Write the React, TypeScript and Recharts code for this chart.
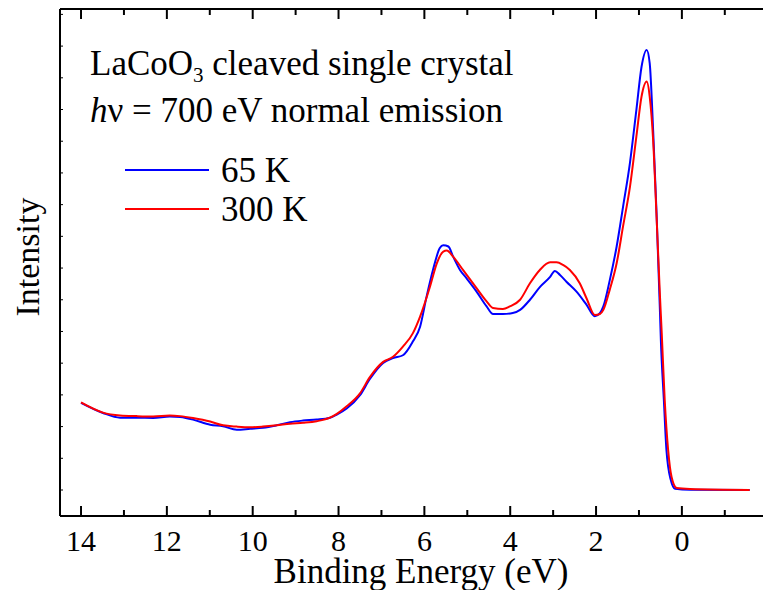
import { LineChart, Line, XAxis, YAxis, Customized } from "recharts";

// Binding energy (eV) and intensity (arb. units) for each temperature
const energy65 = [
  14.0, 13.49, 13.09, 12.7, 12.32, 11.93, 11.69, 11.39, 10.99, 10.69,
  10.37, 10.06, 9.76, 9.44, 9.13, 8.83, 8.51, 8.2, 8.04, 7.81,
  7.5, 7.27, 6.96, 6.73, 6.5, 6.27, 6.1, 5.95, 5.8, 5.64,
  5.56, 5.44, 5.33, 5.17, 5.02, 4.78, 4.55, 4.4, 4.17, 3.94,
  3.77, 3.54, 3.31, 3.07, 2.96, 2.84, 2.69, 2.45, 2.22, 2.03,
  1.91, 1.83, 1.68, 1.52, 1.37, 1.21, 1.06, 0.94, 0.82, 0.75,
  0.67, 0.59, 0.51, 0.49, 0.42, 0.36, 0.26, 0.16, -0.19, -1.58,
];
const intensity65 = [
  2.75, 2.43, 2.28, 2.28, 2.27, 2.32, 2.3, 2.22, 2.06, 2.01,
  1.9, 1.93, 1.96, 2.04, 2.14, 2.19, 2.22, 2.28, 2.38, 2.57,
  2.99, 3.5, 4.01, 4.16, 4.25, 4.68, 5.15, 6.09, 6.94, 7.63,
  7.72, 7.68, 7.36, 6.94, 6.68, 6.25, 5.79, 5.55, 5.55, 5.58,
  5.68, 6.0, 6.4, 6.72, 6.91, 6.78, 6.57, 6.25, 5.84, 5.48,
  5.58, 5.79, 6.62, 7.68, 8.94, 10.32, 11.99, 13.35, 13.88, 13.46,
  11.35, 8.73, 5.58, 4.73, 2.84, 1.26, 0.32, 0.04, 0.01, 0.0,
];

const energy300 = [
  14.0, 13.49, 13.09, 12.7, 12.32, 11.93, 11.69, 11.39, 10.99, 10.69,
  10.37, 10.06, 9.76, 9.44, 9.13, 8.83, 8.51, 8.2, 8.04, 7.81,
  7.5, 7.27, 6.96, 6.73, 6.5, 6.27, 6.1, 5.87, 5.71, 5.56,
  5.48, 5.33, 5.1, 4.78, 4.55, 4.4, 4.17, 4.01, 3.77, 3.54,
  3.31, 3.07, 2.92, 2.77, 2.61, 2.38, 2.22, 2.03, 1.91, 1.83,
  1.68, 1.52, 1.37, 1.21, 1.06, 0.94, 0.82, 0.75, 0.67, 0.59,
  0.51, 0.47, 0.4, 0.32, 0.24, 0.12, -0.19, -1.58,
];
const intensity300 = [
  2.76, 2.44, 2.35, 2.33, 2.32, 2.35, 2.33, 2.27, 2.16, 2.04,
  2.0, 1.98, 2.0, 2.04, 2.09, 2.12, 2.17, 2.28, 2.4, 2.64,
  3.05, 3.56, 4.04, 4.2, 4.52, 4.94, 5.47, 6.41, 7.15, 7.52,
  7.55, 7.36, 6.94, 6.36, 5.95, 5.74, 5.71, 5.79, 6.0, 6.52,
  6.94, 7.18, 7.18, 7.1, 6.94, 6.52, 6.04, 5.52, 5.55, 5.68,
  6.32, 7.15, 8.32, 9.56, 11.15, 12.41, 12.88, 12.41, 11.04, 8.62,
  6.09, 4.96, 2.84, 1.26, 0.41, 0.06, 0.03, 0.0,
];

const energyTicks = [14, 13, 12, 11, 10, 9, 8, 7, 6, 5, 4, 3, 2, 1, 0, -1];
const energyLabels = [14, 12, 10, 8, 6, 4, 2, 0];
const intensityTicks = [0, 1, 2, 3, 4, 5, 6, 7, 8, 9, 10, 11, 12, 13, 14, 15];

const series65 = energy65.map((e, i) => ({ e, v: intensity65[i] }));
const series300 = energy300.map((e, i) => ({ e, v: intensity300[i] }));

const FONT = "'Liberation Serif', 'Times New Roman', serif";
const BLUE = "#0000ff";
const RED = "#ff0000";

// inward ticks; even energies get the long tick and a label
function BottomTick(props: any) {
  const { x, y, payload } = props;
  const major = payload.value % 2 === 0;
  return (
    <g>
      <line x1={x} x2={x} y1={y} y2={y - (major ? 10 : 6)} stroke="#000" strokeWidth={2} />
      {energyLabels.includes(payload.value) && (
        <text x={x} y={y + 35} textAnchor="middle" fontFamily={FONT} fontSize={30} fill="#000">
          {payload.value}
        </text>
      )}
    </g>
  );
}

function TopTick(props: any) {
  const { x, y, payload } = props;
  const major = payload.value % 2 === 0;
  return <line x1={x} x2={x} y1={y} y2={y + (major ? 10 : 6)} stroke="#000" strokeWidth={2} />;
}

function LeftTick(props: any) {
  const { x, y } = props;
  return <line x1={x} x2={x + 3} y1={y} y2={y} stroke="#000" strokeWidth={1} />;
}

function Annotations() {
  return (
    <g fontFamily={FONT} fill="#000">
      <text x={90} y={75} fontSize={35}>
        LaCoO
        <tspan fontSize={21} dy={7}>3</tspan>
        <tspan dy={-7}> cleaved single crystal</tspan>
      </text>
      <text x={90} y={122} fontSize={35}>
        <tspan fontStyle="italic">h</tspan>ν = 700 eV normal emission
      </text>
      <line x1={125} x2={209} y1={170} y2={170} stroke={BLUE} strokeWidth={2} />
      <text x={221} y={182} fontSize={35}>65 K</text>
      <line x1={125} x2={209} y1={209} y2={209} stroke={RED} strokeWidth={2} />
      <text x={221} y={221} fontSize={35}>300 K</text>
      <text x={421} y={583} fontSize={35} textAnchor="middle">
        Binding Energy (eV)
      </text>
      <text x={39} y={257} fontSize={34} textAnchor="middle" transform="rotate(-90 39 257)">
        Intensity
      </text>
    </g>
  );
}

export default function App() {
  return (
    <div style={{ position: "absolute", left: 0, top: 0, width: 763, height: 590, background: "#fff" }}>
      <LineChart width={763} height={590} margin={{ top: 8, right: 0, bottom: 0, left: 59 }}>
        <XAxis
          dataKey="e"
          type="number"
          domain={[-1.89, 14.49]}
          reversed
          allowDataOverflow
          ticks={energyTicks}
          interval={0}
          height={74}
          tickSize={0}
          tickMargin={0}
          tick={<BottomTick />}
          axisLine={{ stroke: "#000", strokeWidth: 2 }}
        />
        <XAxis
          xAxisId="top"
          orientation="top"
          dataKey="e"
          type="number"
          domain={[-1.89, 14.49]}
          reversed
          allowDataOverflow
          ticks={energyTicks}
          interval={0}
          height={1}
          tickSize={0}
          tickMargin={0}
          tick={<TopTick />}
          axisLine={{ stroke: "#000", strokeWidth: 2 }}
        />
        <YAxis
          type="number"
          domain={[-0.82, 15.17]}
          allowDataOverflow
          ticks={intensityTicks}
          interval={0}
          width={1}
          tickSize={0}
          tickMargin={0}
          tick={<LeftTick />}
          axisLine={{ stroke: "#000", strokeWidth: 2 }}
        />
        <Line
          data={series65}
          dataKey="v"
          type="monotone"
          stroke={BLUE}
          strokeWidth={2}
          dot={false}
          isAnimationActive={false}
        />
        <Line
          data={series300}
          dataKey="v"
          type="monotone"
          stroke={RED}
          strokeWidth={2}
          dot={false}
          isAnimationActive={false}
        />
        <Customized component={<Annotations />} />
      </LineChart>
    </div>
  );
}
